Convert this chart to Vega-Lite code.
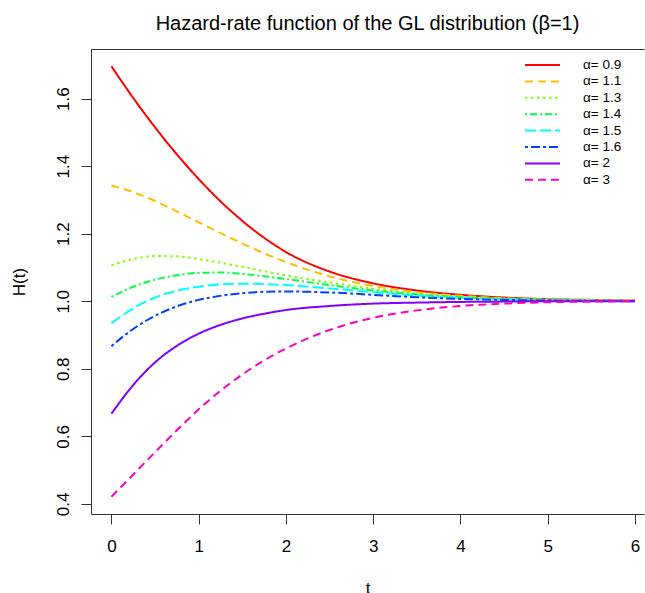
{
  "$schema": "https://vega.github.io/schema/vega-lite/v6.json",
  "width": 553,
  "height": 465,
  "autosize": "none",
  "padding": {"left": 91, "top": 49, "right": 1, "bottom": 79},
  "background": "white",
  "config": {
    "font": "Liberation Sans",
    "view": {"stroke": null},
    "axis": {"grid": false, "domainColor": "#333", "tickColor": "#333", "labelColor": "black", "titleColor": "black", "labelFont": "Liberation Sans", "titleFont": "Liberation Sans", "labelFontSize": 17, "titleFontSize": 17, "titleFontWeight": "normal"}
  },
  "title": {"text": "Hazard-rate function of the GL distribution (β=1)", "fontSize": 20, "fontWeight": "normal", "font": "Liberation Sans", "color": "black", "anchor": "middle", "baseline": "alphabetic", "offset": 21, "dy": 22},
  "data": {"values": [
    {"a": "α= 0.9", "t": 0, "h": 1.696}, {"a": "α= 0.9", "t": 0.25, "h": 1.602}, {"a": "α= 0.9", "t": 0.5, "h": 1.515}, {"a": "α= 0.9", "t": 0.75, "h": 1.435}, {"a": "α= 0.9", "t": 1, "h": 1.362}, {"a": "α= 0.9", "t": 1.25, "h": 1.296}, {"a": "α= 0.9", "t": 1.5, "h": 1.238}, {"a": "α= 0.9", "t": 1.75, "h": 1.188}, {"a": "α= 0.9", "t": 2, "h": 1.146}, {"a": "α= 0.9", "t": 2.5, "h": 1.088}, {"a": "α= 0.9", "t": 3, "h": 1.053}, {"a": "α= 0.9", "t": 3.5, "h": 1.032}, {"a": "α= 0.9", "t": 4, "h": 1.019}, {"a": "α= 0.9", "t": 4.5, "h": 1.011}, {"a": "α= 0.9", "t": 5, "h": 1.006}, {"a": "α= 0.9", "t": 5.5, "h": 1.004}, {"a": "α= 0.9", "t": 6, "h": 1.002},
    {"a": "α= 1.1", "t": 0, "h": 1.343}, {"a": "α= 1.1", "t": 0.25, "h": 1.323}, {"a": "α= 1.1", "t": 0.5, "h": 1.297}, {"a": "α= 1.1", "t": 0.75, "h": 1.266}, {"a": "α= 1.1", "t": 1, "h": 1.234}, {"a": "α= 1.1", "t": 1.25, "h": 1.202}, {"a": "α= 1.1", "t": 1.5, "h": 1.171}, {"a": "α= 1.1", "t": 1.75, "h": 1.142}, {"a": "α= 1.1", "t": 2, "h": 1.116}, {"a": "α= 1.1", "t": 2.5, "h": 1.074}, {"a": "α= 1.1", "t": 3, "h": 1.045}, {"a": "α= 1.1", "t": 3.5, "h": 1.027}, {"a": "α= 1.1", "t": 4, "h": 1.016}, {"a": "α= 1.1", "t": 4.5, "h": 1.009}, {"a": "α= 1.1", "t": 5, "h": 1.005}, {"a": "α= 1.1", "t": 5.5, "h": 1.003}, {"a": "α= 1.1", "t": 6, "h": 1.002},
    {"a": "α= 1.3", "t": 0, "h": 1.106}, {"a": "α= 1.3", "t": 0.25, "h": 1.125}, {"a": "α= 1.3", "t": 0.5, "h": 1.134}, {"a": "α= 1.3", "t": 0.75, "h": 1.133}, {"a": "α= 1.3", "t": 1, "h": 1.125}, {"a": "α= 1.3", "t": 1.25, "h": 1.114}, {"a": "α= 1.3", "t": 1.5, "h": 1.102}, {"a": "α= 1.3", "t": 1.75, "h": 1.089}, {"a": "α= 1.3", "t": 2, "h": 1.077}, {"a": "α= 1.3", "t": 2.5, "h": 1.056}, {"a": "α= 1.3", "t": 3, "h": 1.037}, {"a": "α= 1.3", "t": 3.5, "h": 1.023}, {"a": "α= 1.3", "t": 4, "h": 1.014}, {"a": "α= 1.3", "t": 4.5, "h": 1.008}, {"a": "α= 1.3", "t": 5, "h": 1.005}, {"a": "α= 1.3", "t": 5.5, "h": 1.003}, {"a": "α= 1.3", "t": 6, "h": 1.001},
    {"a": "α= 1.4", "t": 0, "h": 1.013}, {"a": "α= 1.4", "t": 0.25, "h": 1.043}, {"a": "α= 1.4", "t": 0.5, "h": 1.064}, {"a": "α= 1.4", "t": 0.75, "h": 1.077}, {"a": "α= 1.4", "t": 1, "h": 1.084}, {"a": "α= 1.4", "t": 1.25, "h": 1.085}, {"a": "α= 1.4", "t": 1.5, "h": 1.081}, {"a": "α= 1.4", "t": 1.75, "h": 1.074}, {"a": "α= 1.4", "t": 2, "h": 1.066}, {"a": "α= 1.4", "t": 2.5, "h": 1.048}, {"a": "α= 1.4", "t": 3, "h": 1.032}, {"a": "α= 1.4", "t": 3.5, "h": 1.02}, {"a": "α= 1.4", "t": 4, "h": 1.012}, {"a": "α= 1.4", "t": 4.5, "h": 1.007}, {"a": "α= 1.4", "t": 5, "h": 1.004}, {"a": "α= 1.4", "t": 5.5, "h": 1.002}, {"a": "α= 1.4", "t": 6, "h": 1.001},
    {"a": "α= 1.5", "t": 0, "h": 0.935}, {"a": "α= 1.5", "t": 0.25, "h": 0.979}, {"a": "α= 1.5", "t": 0.5, "h": 1.011}, {"a": "α= 1.5", "t": 0.75, "h": 1.031}, {"a": "α= 1.5", "t": 1, "h": 1.043}, {"a": "α= 1.5", "t": 1.25, "h": 1.05}, {"a": "α= 1.5", "t": 1.5, "h": 1.052}, {"a": "α= 1.5", "t": 1.75, "h": 1.051}, {"a": "α= 1.5", "t": 2, "h": 1.048}, {"a": "α= 1.5", "t": 2.5, "h": 1.038}, {"a": "α= 1.5", "t": 3, "h": 1.027}, {"a": "α= 1.5", "t": 3.5, "h": 1.017}, {"a": "α= 1.5", "t": 4, "h": 1.01}, {"a": "α= 1.5", "t": 4.5, "h": 1.006}, {"a": "α= 1.5", "t": 5, "h": 1.003}, {"a": "α= 1.5", "t": 5.5, "h": 1.002}, {"a": "α= 1.5", "t": 6, "h": 1.001},
    {"a": "α= 1.6", "t": 0, "h": 0.867}, {"a": "α= 1.6", "t": 0.25, "h": 0.918}, {"a": "α= 1.6", "t": 0.5, "h": 0.957}, {"a": "α= 1.6", "t": 0.75, "h": 0.985}, {"a": "α= 1.6", "t": 1, "h": 1.004}, {"a": "α= 1.6", "t": 1.25, "h": 1.016}, {"a": "α= 1.6", "t": 1.5, "h": 1.024}, {"a": "α= 1.6", "t": 1.75, "h": 1.028}, {"a": "α= 1.6", "t": 2, "h": 1.029}, {"a": "α= 1.6", "t": 2.5, "h": 1.026}, {"a": "α= 1.6", "t": 3, "h": 1.019}, {"a": "α= 1.6", "t": 3.5, "h": 1.012}, {"a": "α= 1.6", "t": 4, "h": 1.007}, {"a": "α= 1.6", "t": 4.5, "h": 1.004}, {"a": "α= 1.6", "t": 5, "h": 1.002}, {"a": "α= 1.6", "t": 5.5, "h": 1.001}, {"a": "α= 1.6", "t": 6, "h": 1.0},
    {"a": "α= 2", "t": 0, "h": 0.667}, {"a": "α= 2", "t": 0.25, "h": 0.752}, {"a": "α= 2", "t": 0.5, "h": 0.819}, {"a": "α= 2", "t": 0.75, "h": 0.868}, {"a": "α= 2", "t": 1, "h": 0.904}, {"a": "α= 2", "t": 1.25, "h": 0.93}, {"a": "α= 2", "t": 1.5, "h": 0.949}, {"a": "α= 2", "t": 1.75, "h": 0.963}, {"a": "α= 2", "t": 2, "h": 0.974}, {"a": "α= 2", "t": 2.5, "h": 0.986}, {"a": "α= 2", "t": 3, "h": 0.993}, {"a": "α= 2", "t": 3.5, "h": 0.996}, {"a": "α= 2", "t": 4, "h": 0.998}, {"a": "α= 2", "t": 4.5, "h": 0.999}, {"a": "α= 2", "t": 5, "h": 1.0}, {"a": "α= 2", "t": 5.5, "h": 1.0}, {"a": "α= 2", "t": 6, "h": 1.0},
    {"a": "α= 3", "t": 0, "h": 0.421}, {"a": "α= 3", "t": 0.25, "h": 0.487}, {"a": "α= 3", "t": 0.5, "h": 0.553}, {"a": "α= 3", "t": 0.75, "h": 0.618}, {"a": "α= 3", "t": 1, "h": 0.68}, {"a": "α= 3", "t": 1.25, "h": 0.735}, {"a": "α= 3", "t": 1.5, "h": 0.783}, {"a": "α= 3", "t": 1.75, "h": 0.825}, {"a": "α= 3", "t": 2, "h": 0.86}, {"a": "α= 3", "t": 2.5, "h": 0.915}, {"a": "α= 3", "t": 3, "h": 0.951}, {"a": "α= 3", "t": 3.5, "h": 0.973}, {"a": "α= 3", "t": 4, "h": 0.986}, {"a": "α= 3", "t": 4.5, "h": 0.993}, {"a": "α= 3", "t": 5, "h": 0.997}, {"a": "α= 3", "t": 5.5, "h": 0.999}, {"a": "α= 3", "t": 6, "h": 1.0}
  ]},
  "layer": [
    {
      "mark": {"type": "line", "strokeWidth": 2, "interpolate": "monotone", "strokeCap": "butt"},
      "encoding": {
        "x": {"field": "t", "type": "quantitative", "scale": {"domain": [-0.234, 6.104], "nice": false, "zero": false},
          "axis": {"orient": "bottom", "values": [0, 1, 2, 3, 4, 5, 6], "format": "d", "tickSize": 10, "labelPadding": 14, "title": "t", "titlePadding": 26, "labelFlush": false}},
        "y": {"field": "h", "type": "quantitative", "scale": {"domain": [0.37, 1.747], "nice": false, "zero": false},
          "axis": {"values": [0.4, 0.6, 0.8, 1.0, 1.2, 1.4, 1.6], "format": ".1f", "tickSize": 10, "labelAngle": -90, "labelAlign": "center", "labelBaseline": "alphabetic", "labelPadding": 13, "title": "H(t)", "titlePadding": 26, "labelFlush": false}},
        "color": {"field": "a", "type": "nominal", "scale": {"domain": ["α= 0.9", "α= 1.1", "α= 1.3", "α= 1.4", "α= 1.5", "α= 1.6", "α= 2", "α= 3"], "range": ["#FF0000", "#FFBF00", "#80FF00", "#00FF40", "#00FFFF", "#0040FF", "#8000FF", "#FF00BF"]},
          "legend": {"orient": "none", "legendX": 433, "legendY": 9, "title": null, "symbolType": "stroke", "symbolSize": 1225, "symbolStrokeWidth": 2, "labelFontSize": 13.5, "labelFont": "Liberation Sans", "labelColor": "black", "labelOffset": 22, "clipHeight": 14, "rowPadding": 2.4, "padding": 0}},
        "strokeDash": {"field": "a", "type": "nominal", "scale": {"domain": ["α= 0.9", "α= 1.1", "α= 1.3", "α= 1.4", "α= 1.5", "α= 1.6", "α= 2", "α= 3"], "range": [[1, 0], [8, 5], [2.5, 3.5], [2, 3, 7, 3], [11, 4], [3, 3, 9, 3], [1, 0], [8, 5]]},
          "legend": {"orient": "none", "legendX": 433, "legendY": 9, "title": null, "symbolType": "stroke", "symbolSize": 1225, "symbolStrokeWidth": 2, "labelFontSize": 13.5, "labelFont": "Liberation Sans", "labelColor": "black", "labelOffset": 22, "clipHeight": 14, "rowPadding": 2.4, "padding": 0}}
      }
    },
    {
      "mark": {"type": "line", "opacity": 0},
      "encoding": {
        "x": {"field": "t", "type": "quantitative", "axis": {"orient": "top", "labels": false, "ticks": false, "title": null, "domain": true}},
        "y": {"field": "h", "type": "quantitative"}
      }
    }
  ],
  "resolve": {"axis": {"x": "independent"}}
}
